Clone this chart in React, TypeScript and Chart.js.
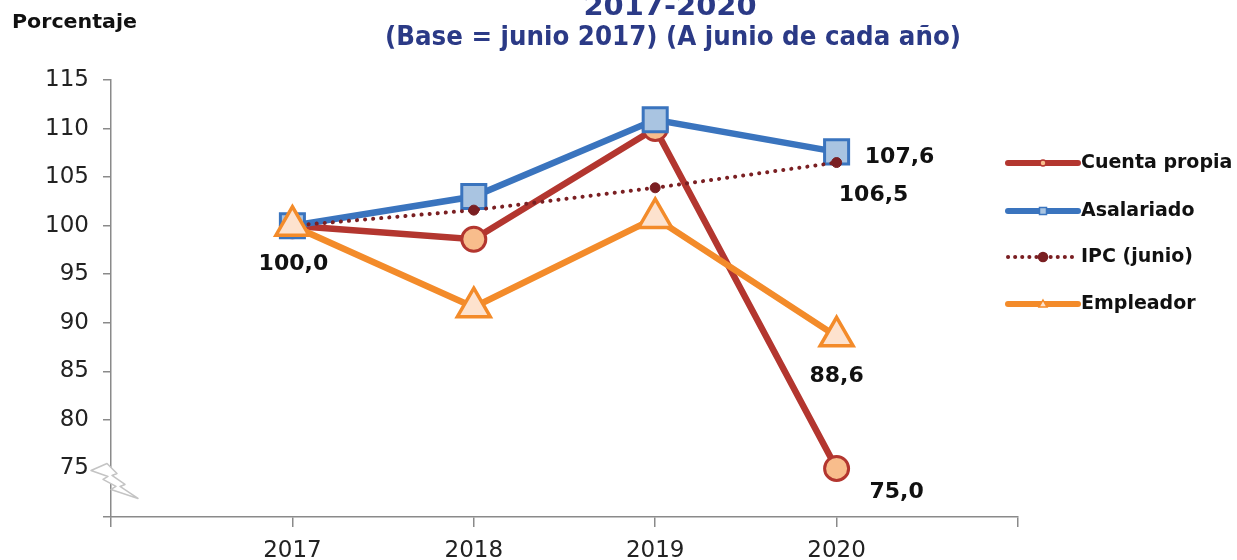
import React, { useEffect, useRef } from "react";
import { Chart, registerables } from "chart.js";

Chart.register(...registerables);

const years = [2017, 2018, 2019, 2020];
const cuentaPropia = [100.0, 98.6, 110.0, 75.0];
const asalariado = [100.0, 103.0, 110.9, 107.6];
const ipcJunio = [100.0, 101.6, 103.9, 106.5];
const empleador = [100.0, 91.6, 100.8, 88.6];

const seriesNames = ["Cuenta propia", "Asalariado", "IPC (junio)", "Empleador"];
const titleLine1 = "2017-2020";
const titleLine2 = "(Base = junio 2017) (A junio de cada año)";
const yAxisTitle = "Porcentaje";

const xMin = 2016;
const xMax = 2021;
const yMin = 70;
const yMax = 115;
const yStep = 5;

// which points get a value label: [datasetIndex, pointIndex, dx, dy]
const valueLabels: [number, number, number, number][] = [
  [3, 0, 1, 39],
  [1, 3, 63, 5],
  [2, 3, 37, 33],
  [3, 3, 0, 40],
  [0, 3, 60, 24],
];

const FONT = "DejaVu Sans";

function fitText(
  ctx: CanvasRenderingContext2D,
  text: string,
  x: number,
  y: number,
  width: number,
  font: string,
  color: string,
  align: CanvasTextAlign
) {
  ctx.save();
  ctx.font = font;
  const w = ctx.measureText(text).width;
  const sx = width / w;
  ctx.translate(x, y);
  ctx.scale(sx, 1);
  ctx.fillStyle = color;
  ctx.textAlign = align;
  ctx.textBaseline = "alphabetic";
  ctx.fillText(text, 0, 0);
  ctx.restore();
}

const decorPlugin = {
  id: "decor",
  afterDraw(chart: any) {
    const ctx: CanvasRenderingContext2D = chart.ctx;
    const { chartArea, scales } = chart;
    const xs = scales.x;
    const ys = scales.y;

    // titles
    fitText(ctx, titleLine1, 670, 15, 173, `bold 27px ${FONT}`, "#2B3A86", "center");
    fitText(ctx, titleLine2, 673, 45, 576, `bold 27px ${FONT}`, "#2B3A86", "center");
    fitText(ctx, yAxisTitle, 12, 28, 125, `bold 19px ${FONT}`, "#111111", "left");

    // axis break symbol at lowest labelled tick
    const bx = chartArea.left;
    const by = ys.getPixelForValue(75);
    const pts = [
      [-20, 2], [-4, -5], [6, 5], [1, 7], [14, 16], [9, 18], [27, 30],
      [0, 21], [5, 18], [-8, 11], [-3, 8],
    ];
    ctx.save();
    ctx.beginPath();
    pts.forEach(([dx, dy], i) => {
      if (i === 0) ctx.moveTo(bx + dx, by + dy);
      else ctx.lineTo(bx + dx, by + dy);
    });
    ctx.closePath();
    ctx.fillStyle = "#ffffff";
    ctx.fill();
    ctx.strokeStyle = "#C4C4C4";
    ctx.lineWidth = 1.5;
    ctx.lineJoin = "round";
    ctx.stroke();
    ctx.restore();

    // value labels
    ctx.save();
    ctx.font = `bold 22px ${FONT}`;
    ctx.fillStyle = "#111111";
    ctx.textAlign = "center";
    ctx.textBaseline = "middle";
    valueLabels.forEach(([di, pi, dx, dy]) => {
      const ds = chart.data.datasets[di];
      const pt = ds.data[pi];
      const px = xs.getPixelForValue(pt.x);
      const py = ys.getPixelForValue(pt.y);
      ctx.fillText(pt.y.toFixed(1).replace(".", ","), px + dx, py + dy);
    });
    ctx.restore();

    // legend
    const rows = [163, 211, 257, 304];
    const lx0 = chartArea.right - 10;
    const lx1 = chartArea.right + 60;
    const mid = (lx0 + lx1) / 2;
    ctx.save();
    chart.data.datasets.forEach((ds: any, i: number) => {
      const y = rows[i];
      ctx.save();
      ctx.strokeStyle = ds.borderColor;
      ctx.lineWidth = i === 2 ? 4 : 6;
      ctx.lineCap = "round";
      if (i === 2) ctx.setLineDash([0.1, 7]);
      ctx.beginPath();
      ctx.moveTo(lx0, y);
      ctx.lineTo(lx1, y);
      ctx.stroke();
      ctx.restore();
      ctx.save();
      ctx.fillStyle = ds.pointBackgroundColor;
      ctx.strokeStyle = ds.pointBorderColor;
      ctx.lineWidth = 1.5;
      ctx.beginPath();
      if (i === 0) ctx.arc(mid, y, 3, 0, Math.PI * 2);
      else if (i === 1) ctx.rect(mid - 3.5, y - 3.5, 7, 7);
      else if (i === 2) ctx.arc(mid, y, 4.5, 0, Math.PI * 2);
      else {
        ctx.moveTo(mid, y - 4);
        ctx.lineTo(mid + 4, y + 3);
        ctx.lineTo(mid - 4, y + 3);
        ctx.closePath();
      }
      ctx.fill();
      ctx.stroke();
      ctx.restore();
      ctx.font = `bold 19px ${FONT}`;
      ctx.fillStyle = "#111111";
      ctx.textAlign = "left";
      ctx.textBaseline = "middle";
      ctx.fillText(seriesNames[i], lx1 + 3, y);
    });
    ctx.restore();
  },
};

export default function App() {
  const ref = useRef<HTMLCanvasElement | null>(null);

  useEffect(() => {
    if (!ref.current) return;
    const mk = (arr: number[]) => years.map((x, i) => ({ x, y: arr[i] }));
    const chart = new Chart(ref.current, {
      type: "line",
      data: {
        datasets: [
          {
            label: seriesNames[0],
            data: mk(cuentaPropia),
            borderColor: "#B3362F",
            borderWidth: 6.5,
            pointStyle: "circle",
            pointRadius: 12,
            pointBackgroundColor: "#F8BD8C",
            pointBorderColor: "#B3362F",
            pointBorderWidth: 3,
            order: 4,
          },
          {
            label: seriesNames[1],
            data: mk(asalariado),
            borderColor: "#3A74BE",
            borderWidth: 6.5,
            pointStyle: "rect",
            pointRadius: 17,
            pointBackgroundColor: "#A9C4E1",
            pointBorderColor: "#3A74BE",
            pointBorderWidth: 3,
            order: 3,
          },
          {
            label: seriesNames[2],
            data: mk(ipcJunio),
            borderColor: "#7A1F22",
            borderWidth: 4,
            borderDash: [0.1, 8],
            borderCapStyle: "round",
            pointStyle: "circle",
            pointRadius: 5,
            pointBackgroundColor: "#7A1F22",
            pointBorderColor: "#7A1F22",
            pointBorderWidth: 1,
            order: 2,
          },
          {
            label: seriesNames[3],
            data: mk(empleador),
            borderColor: "#F38B2A",
            borderWidth: 6.5,
            pointStyle: "triangle",
            pointRadius: 19,
            pointBackgroundColor: "#FDE2CE",
            pointBorderColor: "#F38B2A",
            pointBorderWidth: 3.5,
            order: 1,
          },
        ],
      },
      options: {
        responsive: false,
        animation: false,
        events: [],
        layout: { padding: { top: 80, right: 219, left: 0, bottom: 0 } },
        elements: { line: { tension: 0 } },
        plugins: {
          legend: { display: false },
          tooltip: { enabled: false },
          title: { display: false },
        },
        scales: {
          x: {
            type: "linear",
            min: xMin,
            max: xMax,
            afterFit: (s: any) => {
              s.height = 43;
            },
            ticks: {
              stepSize: 1,
              padding: 10,
              color: "#222222",
              font: { family: FONT, size: 23 },
              callback: (v: any) => (v >= 2017 && v <= 2020 ? String(v) : ""),
            },
            grid: {
              drawOnChartArea: false,
              drawTicks: true,
              tickLength: 10,
              color: "#8A8A8A",
              lineWidth: 1.5,
            },
            border: { color: "#8A8A8A", width: 1.5 },
          },
          y: {
            min: yMin,
            max: yMax,
            afterFit: (s: any) => {
              s.width = 111;
            },
            ticks: {
              stepSize: yStep,
              padding: 14,
              color: "#222222",
              font: { family: FONT, size: 23 },
              callback: (v: any) => (v === yMin ? "" : String(v)),
            },
            grid: {
              drawOnChartArea: false,
              drawTicks: true,
              tickLength: 8,
              color: "#8A8A8A",
              lineWidth: 1.5,
            },
            border: { color: "#8A8A8A", width: 1.5 },
          },
        },
      },
      plugins: [decorPlugin],
    } as any);
    return () => chart.destroy();
  }, []);

  return (
    <div style={{ position: "absolute", left: 0, top: 0, width: 1237, height: 560, background: "#fff" }}>
      <canvas ref={ref} width={1237} height={560} style={{ display: "block" }} />
    </div>
  );
}
